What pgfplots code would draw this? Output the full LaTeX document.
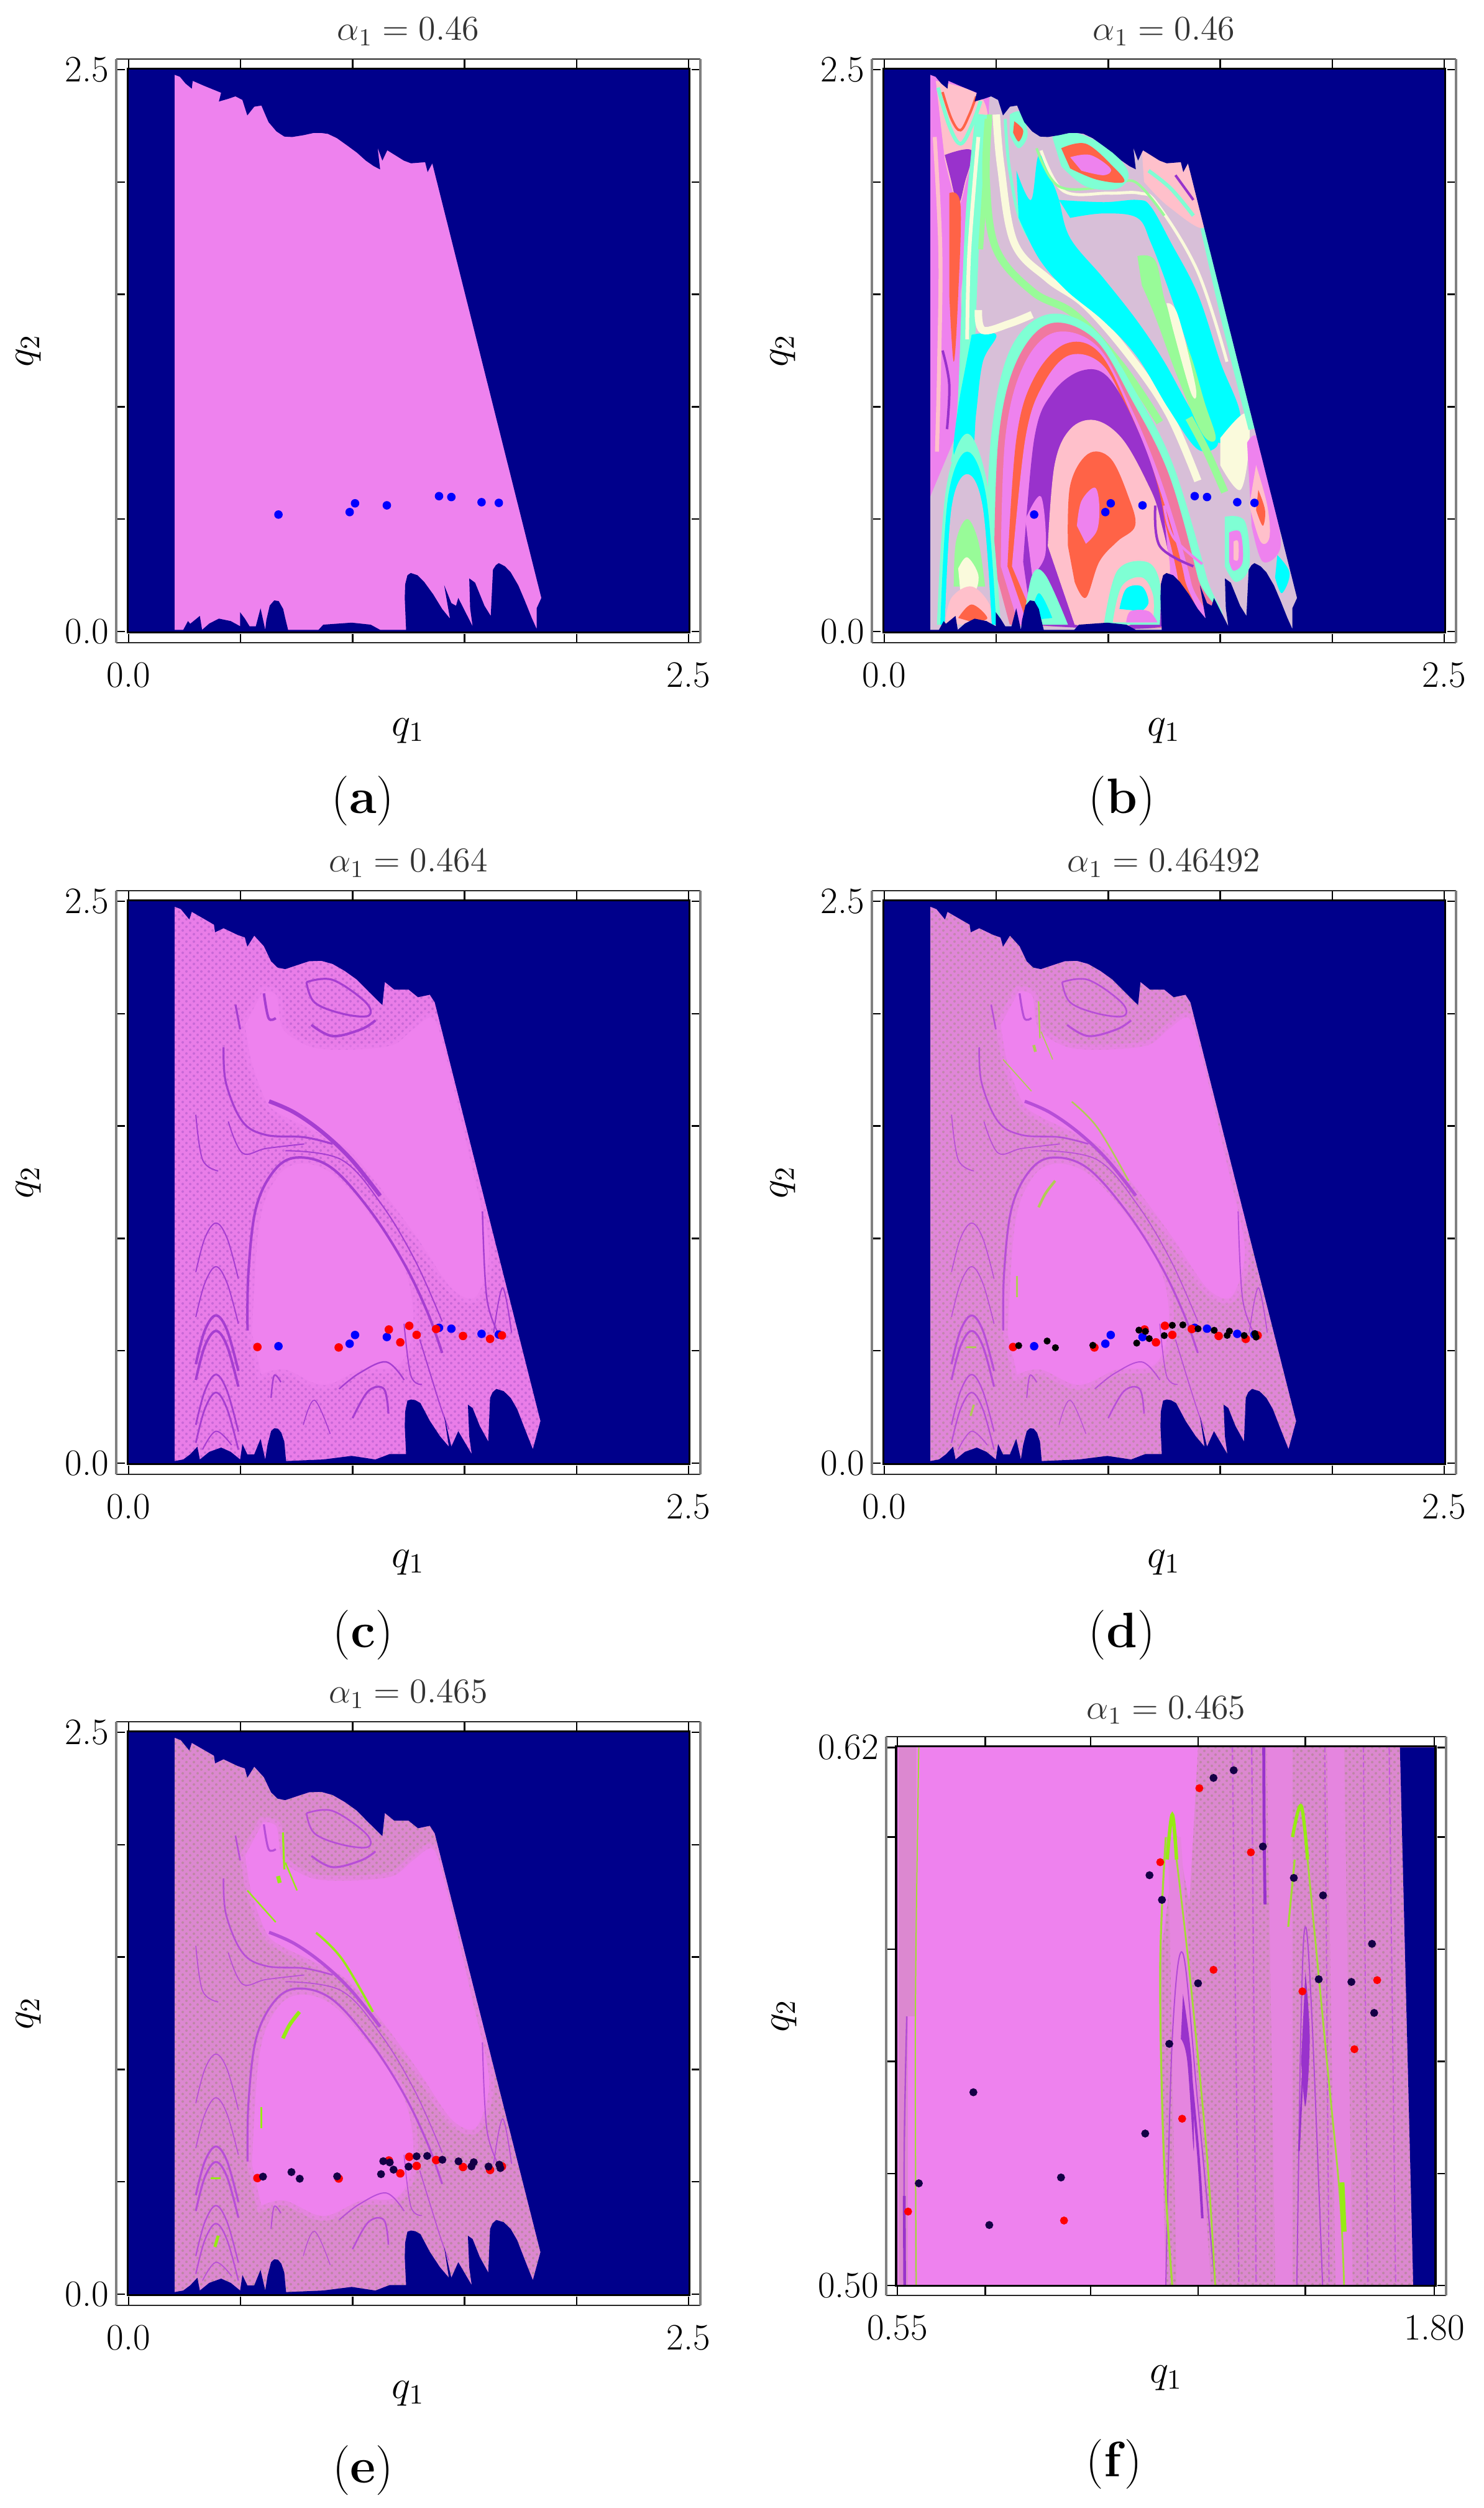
\documentclass[border=0pt]{standalone}
\usepackage{fix-cm}
\usepackage{pgfplots}
\pgfplotsset{compat=1.18}
\usepackage{pgfplotstable}
\usetikzlibrary{patterns}

\definecolor{bgnavy}{RGB}{0,0,139}
\definecolor{bviolet}{RGB}{238,130,238}
\definecolor{borchid}{RGB}{153,50,204}
\definecolor{btomato}{RGB}{255,99,71}
\definecolor{bcyan}{RGB}{0,255,255}
\definecolor{bgreen}{RGB}{152,251,152}
\definecolor{bthistle}{RGB}{216,191,216}
\definecolor{bpink}{RGB}{255,192,203}
\definecolor{bivory}{RGB}{250,250,220}
\definecolor{baqua}{RGB}{127,255,212}
\definecolor{bsalmon}{RGB}{240,120,160}
\definecolor{lawn}{RGB}{150,235,20}
\definecolor{speckc}{RGB}{233,125,232}
\definecolor{speckd}{RGB}{224,134,216}
\definecolor{specke}{RGB}{220,136,208}
\definecolor{dotc}{RGB}{200,105,215}
\definecolor{dotd}{RGB}{195,135,175}
\definecolor{dote}{RGB}{190,135,165}
\definecolor{pblack}{RGB}{20,0,70}

% outline of the basin, q1 q2, then the outer rectangle so it can be filled even-odd
\pgfplotstableread{
x y
0.205 0.007
0.205 2.477
0.229 2.468
0.254 2.438
0.282 2.415
0.286 2.450
0.339 2.427
0.413 2.397
0.403 2.358
0.445 2.370
0.477 2.381
0.508 2.365
0.530 2.296
0.561 2.335
0.593 2.340
0.610 2.300
0.625 2.266
0.660 2.225
0.695 2.202
0.730 2.200
0.780 2.208
0.826 2.218
0.860 2.218
0.890 2.214
0.930 2.195
0.975 2.163
1.020 2.130
1.059 2.095
1.095 2.070
1.123 2.056
1.112 2.152
1.133 2.095
1.155 2.141
1.229 2.095
1.261 2.083
1.324 2.088
1.335 2.044
1.356 2.083
1.843 0.149
1.822 0.103
1.822 0.011
1.800 0.060
1.769 0.137
1.740 0.205
1.706 0.263
1.680 0.290
1.653 0.304
1.640 0.295
1.627 0.275
1.617 0.069
1.589 0.114
1.547 0.217
1.521 0.236
1.525 0.103
1.536 0.023
1.472 0.149
1.462 0.114
1.441 0.126
1.409 0.206
1.435 0.057
1.400 0.100
1.360 0.165
1.320 0.220
1.290 0.250
1.260 0.260
1.245 0.250
1.235 0.210
1.233 0.149
1.239 0.007
1.123 0.007
1.081 0.030
0.996 0.039
0.869 0.030
0.848 0.007
0.712 0.007
0.699 0.060
0.690 0.100
0.670 0.135
0.650 0.138
0.630 0.115
0.615 0.050
0.610 0.007
0.589 0.103
0.568 0.023
0.540 0.023
0.519 0.057
0.498 0.085
0.498 0.023
0.456 0.046
0.403 0.057
0.360 0.035
0.328 0.007
0.318 0.069
0.275 0.034
0.265 0.046
0.244 0.007
0.205 0.007
0.205 0.000
0.000 0.000
0.000 2.500
2.500 2.500
2.500 0.000
0.205 0.000
}\maskA

\pgfplotstableread{
x y
0.205 0.009
0.205 2.476
0.233 2.465
0.271 2.419
0.282 2.453
0.381 2.396
0.386 2.362
0.424 2.380
0.487 2.350
0.519 2.339
0.530 2.298
0.561 2.347
0.604 2.300
0.636 2.233
0.665 2.205
0.699 2.198
0.750 2.215
0.805 2.233
0.860 2.235
0.911 2.221
0.965 2.190
1.017 2.153
1.075 2.095
1.133 2.038
1.144 2.141
1.186 2.107
1.250 2.107
1.292 2.073
1.345 2.084
1.367 2.050
1.839 0.187
1.805 0.062
1.770 0.150
1.735 0.240
1.706 0.290
1.675 0.320
1.642 0.330
1.625 0.315
1.614 0.290
1.606 0.096
1.568 0.165
1.536 0.245
1.515 0.260
1.521 0.119
1.532 0.040
1.472 0.142
1.441 0.073
1.409 0.210
1.430 0.073
1.390 0.120
1.345 0.188
1.303 0.267
1.280 0.280
1.261 0.283
1.245 0.278
1.235 0.230
1.233 0.165
1.239 0.040
1.165 0.040
1.102 0.016
0.996 0.032
0.869 0.016
0.703 0.009
0.695 0.096
0.682 0.135
0.667 0.153
0.650 0.155
0.636 0.142
0.620 0.080
0.610 0.016
0.589 0.108
0.561 0.039
0.530 0.039
0.508 0.085
0.498 0.016
0.456 0.050
0.413 0.069
0.360 0.050
0.318 0.016
0.307 0.073
0.275 0.039
0.244 0.016
0.205 0.009
0.205 0.000
0.000 0.000
0.000 2.500
2.500 2.500
2.500 0.000
0.205 0.000
}\maskC

\pgfplotstableread{
x y
0.669 0.520
0.987 0.531
1.011 0.570
1.153 0.561
1.386 0.602
1.441 0.598
1.576 0.575
1.653 0.572
}\bluepts

\pgfplotstableread{
x y
0.600 0.5228
0.727 0.5431
0.764 0.5135
0.931 0.5241
1.127 0.5339
1.137 0.5915
1.166 0.5860
1.183 0.5539
1.250 0.5674
1.286 0.6132
1.333 0.6149
1.401 0.5979
1.473 0.5909
1.531 0.5683
1.541 0.5870
1.607 0.5677
1.655 0.5762
1.660 0.5608
}\blackpts

\pgfplotstableread{
x y
0.575 0.5165
0.938 0.5145
1.162 0.5944
1.213 0.5372
1.253 0.6109
1.286 0.5704
1.373 0.5966
1.493 0.5656
1.614 0.5527
1.667 0.5681
}\redpts

\newcommand{\blob}[2]{\addplot[fill=#1,draw=none,smooth,tension=0.6] coordinates {#2} -- cycle;}
\newcommand{\poly}[2]{\addplot[fill=#1,draw=none] coordinates {#2} -- cycle;}
\newcommand{\streak}[3]{\addplot[#1,line width=#2,smooth,tension=0.6] coordinates {#3};}
\newcommand{\pts}[3]{\addplot[only marks,mark=*,mark size=#2,mark options={draw=#1,fill=#1}] table {#3};}
\newcommand{\baserect}[1]{\addplot[fill=#1,draw=none] coordinates {(0,0) (0,2.5) (2.5,2.5) (2.5,0)} -- cycle;}
\newcommand{\speckle}[1]{\addplot[pattern=crosshatch dots,pattern color=#1,draw=none] coordinates {(0,0) (0,2.5) (2.5,2.5) (2.5,0)} -- cycle;}
\newcommand{\frameA}{\addplot[black,line width=0.8pt] coordinates {(-0.005,-0.004) (-0.005,2.504) (2.505,2.504) (2.505,-0.004)} -- cycle;}

% the shared curves of panels c, d, e: clean zones, then filaments
\newcommand{\cleanzones}{
  \addplot[fill=bviolet,draw=bviolet,draw opacity=0.5,line width=4pt,smooth,tension=0.6] coordinates {(.551,.577) (.583,1.057) (.657,1.263) (.763,1.332) (.911,1.286) (1.081,1.103) (1.229,.874) (1.271,.622) (1.208,.439) (1.038,.416) (.869,.348) (.699,.416) (.593,.394)} -- cycle;
  \addplot[fill=bviolet,draw=bviolet,draw opacity=0.5,line width=4pt,smooth,tension=0.5] coordinates {(.60,2.10) (.66,2.08) (.69,1.93) (.82,1.85) (1.0,1.84) (1.18,1.86) (1.27,1.93) (1.36,1.98) (1.42,1.80) (1.53,1.33) (1.61,.95) (1.55,.74) (1.44,.78) (1.29,1.0) (1.12,1.23) (.975,1.4) (.805,1.49) (.70,1.54) (.62,1.60) (.55,1.78) (.52,1.95)} -- cycle;
}
\newcommand{\filaments}[2]{
  % #1 colour, #2 width factor
  \streak{#1}{1.0pt*#2}{(.531,.59) (.535,.85) (.57,1.14) (.657,1.31) (.763,1.36) (.911,1.31) (1.081,1.12) (1.229,.89) (1.335,.67) (1.40,.49)}
  \streak{#1}{0.5pt*#2}{(.70,1.39) (.95,1.35) (1.13,1.15) (1.28,.90) (1.40,.63)}
  \streak{#1}{1.6pt*#2}{(.627,1.61) (.74,1.56) (.868,1.47) (.995,1.35) (1.123,1.19)}
  \streak{#1}{0.8pt*#2}{(.424,1.85) (.435,1.69) (.508,1.52) (.614,1.46) (.784,1.45) (.911,1.42)}
  \streak{#1}{0.5pt*#2}{(.445,1.52) (.508,1.38) (.614,1.40) (.784,1.42)}
  \streak{#1}{0.8pt*#2}{(.794,2.14) (.911,2.15) (1.059,2.05) (1.07,1.99) (.953,2.0) (.83,2.05) (.794,2.14)}
  \streak{#1}{1.0pt*#2}{(.816,1.95) (.911,1.90) (1.038,1.93) (1.102,1.97)}
  \streak{#1}{0.8pt*#2}{(.477,2.04) (.498,1.93)}
  \streak{#1}{1.0pt*#2}{(.604,2.09) (.625,1.98) (.657,1.98)}
  \streak{#1}{0.5pt*#2}{(.30,.85) (.34,1.0) (.39,1.068) (.44,1.0) (.49,.82)}
  \streak{#1}{0.5pt*#2}{(.30,.65) (.34,.80) (.39,.874) (.44,.80) (.49,.62)}
  \streak{#1}{1.0pt*#2}{(.30,.44) (.34,.59) (.39,.657) (.44,.59) (.49,.41)}
  \streak{#1}{1.0pt*#2}{(.30,.37) (.34,.52) (.39,.588) (.44,.52) (.49,.34)}
  \streak{#1}{0.7pt*#2}{(.30,.17) (.34,.32) (.39,.394) (.44,.32) (.49,.14)}
  \streak{#1}{0.7pt*#2}{(.30,.09) (.34,.24) (.39,.314) (.44,.24) (.49,.06)}
  \streak{#1}{0.5pt*#2}{(.33,.06) (.39,.142) (.46,.08)}
  \streak{#1}{0.5pt*#2}{(.30,1.55) (.33,1.35) (.40,1.30)}
  \streak{#1}{0.6pt*#2}{(.636,.29) (.65,.39) (.68,.36)}
  \streak{#1}{0.6pt*#2}{(.94,.33) (1.03,.40) (1.15,.45) (1.23,.37)}
  \streak{#1}{0.8pt*#2}{(1.0,.20) (1.07,.32) (1.14,.33) (1.16,.22)}
  \streak{#1}{0.4pt*#2}{(.78,.17) (.83,.28) (.90,.13)}
  \streak{#1}{0.6pt*#2}{(1.58,1.12) (1.60,.73) (1.66,.56)}
  \streak{#1}{0.5pt*#2}{(1.63,.58) (1.67,.78) (1.71,.58)}
  \streak{#1}{0.5pt*#2}{(1.23,.62) (1.26,.39) (1.31,.35)}
  \streak{#1}{0.5pt*#2}{(1.30,.55) (1.39,.26) (1.43,.15)}
}
\newcommand{\greenbits}[2]{
  \streak{#1}{0.9pt*#2}{(.837,1.608) (.953,1.491) (1.091,1.256)}
  \streak{#1}{1.5pt*#2}{(.689,1.138) (.72,1.20) (.763,1.256)}
  \streak{#1}{0.8pt*#2}{(.689,2.054) (.695,1.89)}
  \streak{#1}{1.6pt*#2}{(.667,1.86) (.675,1.83)}
  \streak{#1}{0.6pt*#2}{(.70,1.92) (.752,1.796)}
  \streak{#1}{0.9pt*#2}{(.593,.833) (.593,.739)}
  \streak{#1}{0.9pt*#2}{(.365,.516) (.41,.516)}
  \streak{#1}{1.2pt*#2}{(.385,.21) (.40,.26)}
  \streak{#1}{0.6pt*#2}{(.53,1.796) (.657,1.655)}
}

\pgfplotsset{
  frame opts/.style={
    tick align=inside, major tick length=3.5pt,
    tick style={black,line width=0.6pt},
    separate axis lines,
    x axis line style={black!85,line width=0.6pt},
    y axis line style={gray,line width=1.1pt},
    tick label style={font=\fontsize{15}{17}\selectfont},
    xticklabel style={yshift=-4.5pt},
    yticklabel style={xshift=0.5pt},
    every axis title shift=0pt,
    title style={font=\fontsize{14}{16}\selectfont,at={(axis description cs:0.5,1.047)},anchor=center,black!80},
    xlabel style={font=\fontsize{16}{18}\selectfont,at={(axis description cs:0.5,-0.151)},anchor=center},
    ylabel style={font=\fontsize{16}{18}\selectfont,at={(axis description cs:-0.15,0.5)},anchor=center,rotate=0},
    xlabel={$q_1$}, ylabel={$q_2$},
  },
  panel/.style={
    scale only axis, width=235pt, height=234.75pt,
    anchor=south west,
    xmin=-0.0555, xmax=2.553, ymin=-0.05, ymax=2.547,
    xtick={0,0.5,1,1.5,2,2.5}, xticklabels={0.0,,,,,2.5},
    ytick={0,0.5,1,1.5,2,2.5}, yticklabels={0.0,,,,,2.5},
    frame opts,
  },
}

\begin{document}
\begin{tikzpicture}
\path[use as bounding box] (0,0) rectangle (596.75pt,1008.75pt);

% (a)
\begin{axis}[panel, at={(46.75pt,750.25pt)}, title={$\alpha_1=0.46$}]
  \baserect{bviolet}
  \addplot[fill=bgnavy,draw=none,even odd rule] table {\maskA};
  \frameA
  \pts{blue}{1.5pt}{\bluepts}
\end{axis}

% (b)
\begin{axis}[panel, at={(350.75pt,750.25pt)}, title={$\alpha_1=0.46$}, ylabel style={at={(axis description cs:-0.152,0.5)}}]
  \baserect{bthistle}
  % left strip
  \poly{bviolet}{(.205,2.48) (.47,2.40) (.46,2.15) (.40,1.95) (.34,1.5) (.36,1.1) (.31,.85) (.205,.6) (.205,0)}
  \blob{bpink}{(.23,2.45) (.43,2.38) (.46,2.2) (.38,2.05) (.33,1.9) (.27,2.1)}
  \streak{baqua}{1.5pt}{(.24,2.42) (.29,2.25) (.34,2.17) (.39,2.25) (.43,2.36)}
  \streak{btomato}{1pt}{(.26,2.40) (.30,2.28) (.34,2.23) (.38,2.30) (.41,2.38)}
  \blob{borchid}{(.27,2.12) (.39,2.14) (.36,2.0) (.33,1.9) (.30,2.0)}
  \blob{btomato}{(.29,1.95) (.34,1.9) (.33,1.5) (.31,1.2) (.29,1.5)}
  \streak{bpink}{1.6pt}{(.225,2.2) (.25,1.7) (.245,1.2) (.235,.8)}
  \streak{borchid}{1pt}{(.26,1.25) (.29,1.1) (.28,.9)}
  % vertical stripes beside the strip
  \streak{baqua}{6pt}{(.44,2.3) (.40,1.9) (.38,1.5) (.36,1.0) (.33,.75)}
  \streak{bivory}{1.5pt}{(.42,2.2) (.38,1.7) (.37,1.3)}
  \streak{bgreen}{2pt}{(.47,2.3) (.45,2.0) (.43,1.7)}
  % ribbons left of the S
  \streak{bgreen}{3pt}{(.465,2.28) (.455,2.0) (.50,1.7) (.665,1.51) (.85,1.41) (1.06,1.18) (1.23,.93)}
  \streak{bivory}{3pt}{(.50,2.3) (.52,2.07) (.58,1.73) (.73,1.57) (.90,1.45) (1.10,1.22) (1.27,.97) (1.40,.67)}
  \streak{baqua}{1.2pt}{(.54,2.28) (.56,2.05) (.62,1.80) (.76,1.62) (.94,1.47) (1.13,1.24)}
  % upper cyan band and S
  \blob{bcyan}{(.59,2.05) (.655,1.92) (.69,2.12) (.75,2.0) (.78,1.92) (.83,1.75) (.98,1.57) (1.13,1.38) (1.25,1.20) (1.38,.97) (1.49,.84) (1.40,.81) (1.27,.99) (1.13,1.22) (.98,1.38) (.81,1.52) (.69,1.66) (.60,1.84)}
  \blob{bcyan}{(.78,1.92) (.98,1.91) (1.13,1.92) (1.19,1.89) (1.28,1.73) (1.40,1.50) (1.50,1.20) (1.59,.95) (1.49,.84) (1.42,1.02) (1.36,1.25) (1.27,1.52) (1.19,1.73) (1.13,1.84) (.98,1.86) (.83,1.84)}
  \streak{bivory}{1.2pt}{(.70,2.14) (.80,1.96) (1.0,1.95) (1.14,1.95) (1.22,1.90) (1.40,1.60) (1.53,1.2)}
  \streak{bgreen}{1pt}{(.68,2.15) (.78,1.98) (1.0,1.98) (1.12,2.0) (1.25,1.85)}
  % green blade and its ivory core
  \blob{bgreen}{(1.13,1.67) (1.21,1.65) (1.26,1.45) (1.36,1.25) (1.43,1.02) (1.48,.86) (1.42,.88) (1.31,1.13) (1.21,1.40) (1.15,1.54)}
  \blob{bivory}{(1.26,1.46) (1.31,1.41) (1.39,1.09) (1.37,1.06) (1.29,1.34)}
  % right ivory patch and edge
  \blob{bivory}{(1.50,.86) (1.61,.97) (1.63,.84) (1.59,.63) (1.50,.74)}
  \streak{bgreen}{3pt}{(1.36,.95) (1.44,.80) (1.52,.62)}
  \streak{baqua}{2.5pt}{(1.38,2.0) (1.52,1.38) (1.64,.90)}
  % left cyan arm
  \blob{bcyan}{(.39,1.32) (.50,1.32) (.44,1.20) (.41,.97) (.39,.79) (.31,.79) (.34,1.06)}
  \streak{bivory}{3pt}{(.42,1.43) (.44,1.34) (.56,1.37) (.66,1.41)}
  % main lobe, outer to inner
  \blob{baqua}{(.455,.29) (.476,.86) (.56,1.25) (.727,1.41) (.94,1.34) (1.126,1.06) (1.29,.74) (1.44,.24) (1.48,.03) (.98,.03)}
  \blob{bsalmon}{(.49,.29) (.51,.86) (.59,1.20) (.74,1.37) (.94,1.30) (1.10,1.04) (1.27,.70) (1.40,.24) (1.44,.03) (.56,.03)}
  \blob{bviolet}{(.52,.29) (.54,.86) (.62,1.18) (.76,1.33) (.95,1.27) (1.10,1.0) (1.24,.66) (1.37,.22) (1.38,.03) (.60,.03)}
  \blob{btomato}{(.55,.29) (.59,.86) (.67,1.13) (.81,1.28) (.96,1.24) (1.10,.97) (1.23,.63) (1.34,.24) (1.34,.03) (.64,.03)}
  \blob{bviolet}{(.57,.29) (.63,.86) (.71,1.10) (.83,1.23) (.98,1.18) (1.10,.94) (1.21,.63) (1.31,.24) (1.31,.03) (.68,.03)}
  \blob{borchid}{(.62,.31) (.67,.86) (.75,1.06) (.88,1.16) (1.0,1.13) (1.13,.90) (1.23,.61) (1.27,.29) (1.27,.03) (.66,.03)}
  \blob{bviolet}{(.63,.50) (.70,.60) (.72,.35) (.66,.25)}
  \blob{bpink}{(.73,.38) (.76,.74) (.83,.90) (.94,.94) (1.06,.86) (1.17,.67) (1.23,.51) (1.27,.22) (1.10,.03) (.85,.03)}
  \blob{btomato}{(.82,.38) (.83,.65) (.91,.79) (1.01,.77) (1.09,.60) (1.12,.47) (1.04,.40) (.96,.31) (.90,.15) (.85,.22)}
  \blob{bviolet}{(.86,.47) (.88,.58) (.94,.64) (.96,.56) (.95,.45) (.90,.39)}
  % wavy lines right of the lobe
  \streak{borchid}{1pt}{(1.21,.56) (1.23,.38) (1.38,.29)}
  \streak{bviolet}{1pt}{(1.25,.56) (1.29,.42) (1.42,.30)}
  % bottom swirls
  \blob{baqua}{(.98,.03) (1.04,.27) (1.17,.31) (1.23,.22) (1.23,.03)}
  \blob{bpink}{(1.02,.04) (1.06,.20) (1.15,.24) (1.20,.16) (1.2,.04)}
  \blob{bcyan}{(1.05,.10) (1.08,.19) (1.15,.20) (1.18,.13) (1.15,.09)}
  \blob{bviolet}{(1.08,.04) (1.10,.09) (1.18,.09) (1.22,.04)}
  \blob{baqua}{(.62,.03) (.66,.25) (.72,.25) (.82,.03)}
  \blob{bcyan}{(.65,.05) (.69,.17) (.75,.06)}
  % lobe at lower left
  \blob{baqua}{(.235,.03) (.275,.63) (.37,.88) (.465,.63) (.52,.03)}
  \blob{bcyan}{(.25,.03) (.285,.6) (.37,.8) (.455,.6) (.50,.03)}
  \blob{bthistle}{(.27,.03) (.30,.55) (.37,.7) (.44,.55) (.48,.03)}
  \blob{bgreen}{(.31,.2) (.32,.4) (.37,.5) (.42,.4) (.45,.2)}
  \blob{bivory}{(.33,.28) (.37,.33) (.42,.25) (.40,.17) (.34,.17)}
  \blob{bpink}{(.27,.03) (.30,.15) (.39,.2) (.47,.12) (.47,.03)}
  \blob{btomato}{(.33,.06) (.39,.12) (.46,.06) (.40,.04)}
  % right ovals
  \blob{baqua}{(1.52,.51) (1.61,.49) (1.63,.29) (1.57,.22) (1.52,.29)}
  \blob{bviolet}{(1.54,.44) (1.59,.44) (1.60,.31) (1.56,.27) (1.54,.31)}
  \blob{bpink}{(1.56,.40) (1.58,.40) (1.58,.32) (1.56,.32)}
  \blob{bviolet}{(1.62,.84) (1.67,.86) (1.73,.61) (1.77,.38) (1.69,.31) (1.64,.47)}
  \blob{bpink}{(1.66,.74) (1.71,.56) (1.72,.42) (1.68,.40) (1.63,.56)}
  \blob{btomato}{(1.67,.63) (1.70,.54) (1.69,.47) (1.66,.54)}
  \blob{bcyan}{(1.755,.34) (1.81,.26) (1.775,.17) (1.745,.24)}
  % top ovals
  \blob{baqua}{(.75,2.20) (.85,2.22) (1.0,2.15) (1.09,2.04) (1.04,1.97) (.90,1.98) (.79,2.07)}
  \blob{btomato}{(.79,2.15) (.90,2.17) (1.02,2.07) (1.07,2.0) (.95,2.01) (.83,2.06)}
  \blob{bviolet}{(.83,2.11) (.92,2.12) (1.01,2.06) (.98,2.03) (.88,2.05)}
  \blob{baqua}{(.56,2.3) (.61,2.31) (.64,2.21) (.60,2.15) (.56,2.21)}
  \blob{btomato}{(.58,2.27) (.62,2.23) (.60,2.18) (.575,2.22)}
  \blob{bpink}{(1.15,2.14) (1.36,2.07) (1.43,1.80) (1.27,1.89) (1.16,2.0)}
  \streak{baqua}{1.5pt}{(1.18,2.05) (1.28,1.97) (1.38,1.85)}
  \streak{borchid}{1pt}{(1.30,2.03) (1.38,1.92)}
  \addplot[fill=bgnavy,draw=none,even odd rule] table {\maskA};
  \frameA
  \pts{blue}{1.5pt}{\bluepts}
\end{axis}

% (c)
\begin{axis}[panel, at={(46.75pt,415.75pt)}, title={$\alpha_1=0.464$}]
  \baserect{speckc}
  \speckle{dotc}
  \cleanzones
  \filaments{borchid!85!bviolet}{1}
  \addplot[fill=bgnavy,draw=none,even odd rule] table {\maskC};
  \frameA
  \pts{blue}{1.5pt}{\bluepts}
  \pts{red}{1.5pt}{\redpts}
\end{axis}

% (d)
\begin{axis}[panel, at={(350.75pt,415.75pt)}, title={$\alpha_1=0.46492$}, ylabel style={at={(axis description cs:-0.152,0.5)}}]
  \baserect{speckd}
  \speckle{dotd}
  \cleanzones
  \filaments{borchid!65!bviolet}{0.8}
  \greenbits{lawn!70!bviolet}{0.7}
  \addplot[fill=bgnavy,draw=none,even odd rule] table {\maskC};
  \frameA
  \pts{blue}{1.5pt}{\bluepts}
  \pts{red}{1.5pt}{\redpts}
  \pts{black}{1.2pt}{\blackpts}
\end{axis}

% (e)
\begin{axis}[panel, at={(46.75pt,81.5pt)}, title={$\alpha_1=0.465$}]
  \baserect{specke}
  \speckle{dote}
  \cleanzones
  \filaments{borchid!65!bviolet}{0.8}
  \greenbits{lawn}{1}
  \addplot[fill=bgnavy,draw=none,even odd rule] table {\maskC};
  \frameA
  \pts{red}{1.5pt}{\redpts}
  \pts{pblack}{1.4pt}{\blackpts}
\end{axis}

% (f)
\begin{axis}[frame opts, scale only axis, width=225.25pt, height=224.75pt,
    anchor=south west, at={(356.5pt,85.5pt)},
    xmin=0.524, xmax=1.8275, ymin=0.4978, ymax=0.6224,
    xtick={0.55,0.755,1,1.25,1.5,1.8}, xticklabels={0.55,,,,,1.80},
    ytick={0.5,0.525,0.55,0.575,0.6,0.62}, yticklabels={0.50,,,,,0.62},
    title={$\alpha_1=0.465$},
    xlabel style={at={(axis description cs:0.5,-0.148)}},
    ylabel style={at={(axis description cs:-0.182,0.5)}}]
  \addplot[fill=bviolet,draw=none] coordinates {(.55,.5) (.55,.62) (1.8,.62) (1.8,.5)} -- cycle;
  % speckled zones
  \poly{specke}{(.553,.5) (.553,.62) (.594,.62) (.592,.5)}
  \addplot[fill=bviolet,draw=none] coordinates {(.575,.5) (.575,.56) (.59,.56) (.59,.5)} -- cycle;
  \poly{specke}{(1.25,.62) (1.72,.62) (1.751,.5) (1.175,.5) (1.165,.54) (1.160,.571) (1.20,.601) (1.23,.585)}
  \addplot[pattern=crosshatch dots,pattern color=dote,draw=none] coordinates {(1.25,.62) (1.72,.62) (1.751,.5) (1.175,.5) (1.165,.54) (1.160,.571) (1.20,.601) (1.23,.585)} -- cycle;
  % sparser bands inside them
  \poly{specke!50!bviolet}{(1.41,.62) (1.47,.62) (1.47,.5) (1.43,.5)}
  \poly{specke!50!bviolet}{(1.55,.62) (1.59,.62) (1.61,.5) (1.57,.5)}
  \poly{specke!50!bviolet}{(1.18,.6) (1.21,.6) (1.28,.5) (1.2,.5)}
  % purple filaments
  \streak{borchid!70!bviolet}{0.6pt}{(.567,.5) (.566,.53) (.572,.56)}
  \streak{borchid}{1.1pt}{(.567,.5) (.566,.52)}
  \addplot[borchid!50!bviolet,line width=0.6pt,dash pattern=on 2pt off 1pt] coordinates {(1.33,.62) (1.345,.5)};
  \addplot[borchid!50!bviolet,line width=0.6pt,dash pattern=on 3pt off 1pt] coordinates {(1.375,.62) (1.385,.5)};
  \addplot[borchid!50!bviolet,line width=0.5pt,dash pattern=on 2pt off 1pt] coordinates {(1.545,.62) (1.555,.5)};
  \addplot[borchid!50!bviolet,line width=0.5pt,dash pattern=on 2pt off 1pt] coordinates {(1.635,.62) (1.645,.5)};
  \addplot[borchid!50!bviolet,line width=0.5pt,dash pattern=on 3pt off 1pt] coordinates {(1.695,.62) (1.71,.5)};
  \streak{borchid}{1.2pt}{(1.403,.62) (1.404,.60) (1.406,.585)}
  \streak{borchid!70!bviolet}{0.5pt}{(1.175,.5) (1.19,.555) (1.215,.574) (1.25,.54) (1.29,.5)}
  \blob{borchid}{(1.215,.565) (1.235,.55) (1.24,.53) (1.225,.55) (1.21,.555)}
  \streak{borchid}{1pt}{(1.23,.55) (1.25,.53) (1.26,.515)}
  \streak{borchid!70!bviolet}{0.5pt}{(1.48,.5) (1.49,.56) (1.50,.58) (1.515,.56) (1.54,.5)}
  \blob{borchid}{(1.50,.57) (1.51,.555) (1.50,.54) (1.49,.55)}
  \streak{borchid}{0.7pt}{(1.495,.55) (1.485,.53)}
  % green arches
  \streak{lawn!85!bviolet}{0.8pt}{(1.19,.5) (1.17,.53) (1.162,.571) (1.175,.60)}
  \streak{lawn}{1.4pt}{(1.178,.595) (1.19,.605) (1.20,.595)}
  \streak{lawn!85!bviolet}{0.7pt}{(1.20,.595) (1.23,.57) (1.27,.53) (1.29,.5)}
  \streak{lawn!85!bviolet}{0.8pt}{(1.46,.58) (1.475,.595)}
  \streak{lawn}{1.3pt}{(1.47,.6) (1.49,.607) (1.505,.595)}
  \streak{lawn!85!bviolet}{0.7pt}{(1.505,.595) (1.55,.55) (1.58,.52) (1.59,.5)}
  \streak{lawn}{2pt}{(1.585,.523) (1.59,.512)}
  \streak{lawn!85!bviolet}{0.5pt}{(.594,.5) (.592,.56) (.60,.62)}
  % edge of the basin, then the frame
  \poly{bgnavy}{(1.72,.62) (1.803,.62) (1.803,.5) (1.751,.5)}
  \addplot[black,line width=0.8pt] coordinates {(.547,.5) (.547,.6203) (1.803,.6203) (1.803,.5)} -- cycle;
  \pts{red}{1.4pt}{\redpts}
  \pts{pblack}{1.4pt}{\blackpts}
\end{axis}

% panel letters
\node[font=\fontsize{20}{22}\selectfont] at (146pt,686.5pt) {(\textbf{a})};
\node[font=\fontsize{20}{22}\selectfont] at (451.25pt,686.5pt) {(\textbf{b})};
\node[font=\fontsize{20}{22}\selectfont] at (146pt,351pt) {(\textbf{c})};
\node[font=\fontsize{20}{22}\selectfont] at (451.25pt,351pt) {(\textbf{d})};
\node[font=\fontsize{20}{22}\selectfont] at (146pt,15pt) {(\textbf{e})};
\node[font=\fontsize{20}{22}\selectfont] at (448.25pt,17.5pt) {(\textbf{f})};
\end{tikzpicture}
\end{document}
